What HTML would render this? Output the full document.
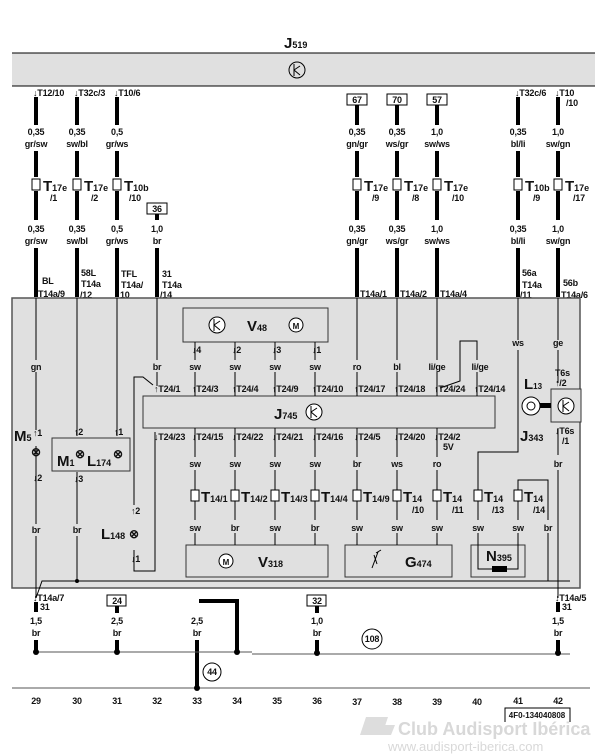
<!DOCTYPE html>
<html><head><meta charset="utf-8"><style>
html,body{margin:0;padding:0;background:#fff;}
svg{display:block;}
text{font-family:"Liberation Sans",sans-serif;font-weight:bold;fill:#111;}
.s{font-size:9px;letter-spacing:-0.2px;}
.b{font-size:15px;}
.c{text-anchor:middle;}
</style></head><body>
<svg width="608" height="756" viewBox="0 0 608 756" xmlns="http://www.w3.org/2000/svg">
<!-- J519 -->
<text x="284" y="48" class="b">J<tspan font-size="9">519</tspan></text>
<rect x="12" y="53" width="583" height="33" fill="#e0e0e0"/>
<line x1="12" y1="53" x2="595" y2="53" stroke="#000" stroke-width="1"/>
<line x1="12" y1="86" x2="595" y2="86" stroke="#000" stroke-width="1"/>
<circle cx="297" cy="70" r="8" fill="none" stroke="#000"/>
<path d="M294 64v12M294 70l6-4M294 70l6 5" stroke="#000" fill="none"/>

<!-- top thick wires -->
<g stroke="#000" stroke-width="4">
<path d="M36 97v28M36 151v26M36 191v29M36 248v49"/>
<path d="M77 97v28M77 151v26M77 191v29M77 248v49"/>
<path d="M117 97v28M117 151v26M117 191v29M117 248v49"/>
<path d="M157 214v6M157 248v49"/>
<path d="M357 105v20M357 151v26M357 191v29M357 248v49"/>
<path d="M397 105v20M397 151v26M397 191v29M397 248v49"/>
<path d="M437 105v20M437 151v26M437 191v29M437 248v49"/>
<path d="M518 97v28M518 151v26M518 191v29M518 248v49"/>
<path d="M558 97v28M558 151v26M558 191v29M558 248v49"/>
</g>
<g class="s">
<text x="33" y="96">↓T12/10</text><text x="74" y="96">↓T32c/3</text><text x="114" y="96">↓T10/6</text>
<text x="515" y="96">↓T32c/6</text><text x="555" y="96">↓T10</text><text x="566" y="106">/10</text>
<text x="36" y="135" class="c">0,35</text><text x="36" y="147" class="c">gr/sw</text>
<text x="77" y="135" class="c">0,35</text><text x="77" y="147" class="c">sw/bl</text>
<text x="117" y="135" class="c">0,5</text><text x="117" y="147" class="c">gr/ws</text>
<text x="36" y="232" class="c">0,35</text><text x="36" y="244" class="c">gr/sw</text>
<text x="77" y="232" class="c">0,35</text><text x="77" y="244" class="c">sw/bl</text>
<text x="117" y="232" class="c">0,5</text><text x="117" y="244" class="c">gr/ws</text>
<text x="157" y="232" class="c">1,0</text><text x="157" y="244" class="c">br</text>
<text x="357" y="135" class="c">0,35</text><text x="357" y="147" class="c">gn/gr</text>
<text x="397" y="135" class="c">0,35</text><text x="397" y="147" class="c">ws/gr</text>
<text x="437" y="135" class="c">1,0</text><text x="437" y="147" class="c">sw/ws</text>
<text x="357" y="232" class="c">0,35</text><text x="357" y="244" class="c">gn/gr</text>
<text x="397" y="232" class="c">0,35</text><text x="397" y="244" class="c">ws/gr</text>
<text x="437" y="232" class="c">1,0</text><text x="437" y="244" class="c">sw/ws</text>
<text x="518" y="135" class="c">0,35</text><text x="518" y="147" class="c">bl/li</text>
<text x="558" y="135" class="c">1,0</text><text x="558" y="147" class="c">sw/gn</text>
<text x="518" y="232" class="c">0,35</text><text x="518" y="244" class="c">bl/li</text>
<text x="558" y="232" class="c">1,0</text><text x="558" y="244" class="c">sw/gn</text>
<text x="42" y="284">BL</text><text x="38" y="297">T14a/9</text>
<text x="81" y="276">58L</text><text x="81" y="287">T14a</text><text x="80" y="298">/12</text>
<text x="121" y="277">TFL</text><text x="121" y="288">T14a/</text><text x="120" y="298">10</text>
<text x="162" y="277">31</text><text x="162" y="288">T14a</text><text x="160" y="298">/14</text>
<text x="360" y="297">T14a/1</text><text x="400" y="297">T14a/2</text><text x="440" y="297">T14a/4</text>
<text x="522" y="276">56a</text><text x="522" y="288">T14a</text><text x="520" y="298">/11</text>
<text x="563" y="286">56b</text><text x="561" y="298">T14a/6</text>
</g>
<!-- boxed refs -->
<g fill="#fff" stroke="#000">
<rect x="147" y="203" width="20" height="11"/>
<rect x="347" y="94" width="20" height="11"/><rect x="387" y="94" width="20" height="11"/><rect x="427" y="94" width="20" height="11"/>
</g>
<g class="s">
<text x="157" y="212" class="c">36</text><text x="357" y="103" class="c">67</text><text x="397" y="103" class="c">70</text><text x="437" y="103" class="c">57</text>
</g>
<!-- top connectors -->
<g fill="#fff" stroke="#000">
<rect x="32" y="179" width="8" height="11"/><rect x="73" y="179" width="8" height="11"/><rect x="113" y="179" width="8" height="11"/>
<rect x="353" y="179" width="8" height="11"/><rect x="393" y="179" width="8" height="11"/><rect x="433" y="179" width="8" height="11"/>
<rect x="514" y="179" width="8" height="11"/><rect x="554" y="179" width="8" height="11"/>
</g>
<g>
<text x="43" y="191" class="b">T<tspan font-size="9">17e</tspan></text><text x="50" y="201" class="s">/1</text>
<text x="84" y="191" class="b">T<tspan font-size="9">17e</tspan></text><text x="91" y="201" class="s">/2</text>
<text x="124" y="191" class="b">T<tspan font-size="9">10b</tspan></text><text x="129" y="201" class="s">/10</text>
<text x="364" y="191" class="b">T<tspan font-size="9">17e</tspan></text><text x="372" y="201" class="s">/9</text>
<text x="404" y="191" class="b">T<tspan font-size="9">17e</tspan></text><text x="412" y="201" class="s">/8</text>
<text x="444" y="191" class="b">T<tspan font-size="9">17e</tspan></text><text x="452" y="201" class="s">/10</text>
<text x="525" y="191" class="b">T<tspan font-size="9">10b</tspan></text><text x="533" y="201" class="s">/9</text>
<text x="565" y="191" class="b">T<tspan font-size="9">17e</tspan></text><text x="573" y="201" class="s">/17</text>
</g>

<!-- main box -->
<rect x="12" y="298" width="568" height="290" fill="#e0e0e0" stroke="#555" stroke-width="1.5"/>
<!-- V48 -->
<rect x="183" y="308" width="145" height="34" fill="#e0e0e0" stroke="#333"/>
<circle cx="217" cy="325" r="8" fill="#fff" stroke="#000"/><path d="M214 319v12M214 325l6-4M214 325l6 5" stroke="#000" fill="none"/>
<text x="247" y="331" class="b">V<tspan font-size="9">48</tspan></text>
<circle cx="296" cy="325" r="7" fill="#fff" stroke="#000"/><text x="296" y="329" class="c" font-size="8">M</text>
<!-- J745 -->
<rect x="143" y="396" width="352" height="32" fill="#e0e0e0" stroke="#333"/>
<text x="274" y="419" class="b">J<tspan font-size="9">745</tspan></text>
<circle cx="314" cy="412" r="8" fill="#fff" stroke="#000"/><path d="M311 406v12M311 412l6-4M311 412l6 5" stroke="#000" fill="none"/>
<!-- V318, G474, N395 -->
<rect x="186" y="545" width="142" height="32" fill="#e0e0e0" stroke="#333"/>
<circle cx="226" cy="561" r="7" fill="#fff" stroke="#000"/><text x="226" y="565" class="c" font-size="8">M</text>
<text x="258" y="567" class="b">V<tspan font-size="9">318</tspan></text>
<rect x="345" y="545" width="107" height="32" fill="#e0e0e0" stroke="#333"/>
<path d="M372 568l6-16M376 553l5-3M374 555l3 9" stroke="#000" fill="none"/>
<text x="405" y="567" class="b">G<tspan font-size="9">474</tspan></text>
<rect x="471" y="545" width="54" height="32" fill="#e0e0e0" stroke="#333"/>
<text x="486" y="561" class="b">N<tspan font-size="9">395</tspan></text>
<rect x="492" y="566" width="15" height="6" fill="#000"/>
<!-- M1/L174 box -->
<rect x="52" y="438" width="78" height="33" fill="#e0e0e0" stroke="#333"/>
<text x="57" y="466" class="b">M<tspan font-size="9">1</tspan></text>
<text x="87" y="466" class="b">L<tspan font-size="9">174</tspan></text>
<!-- J343 -->
<rect x="551" y="389" width="30" height="33" fill="#e0e0e0" stroke="#333"/>
<circle cx="566" cy="406" r="8" fill="#fff" stroke="#000"/><path d="M563 400v12M563 406l6-4M563 406l6 5" stroke="#000" fill="none"/>
<rect x="540" y="403" width="11" height="5" fill="#000"/>
<circle cx="531" cy="406" r="9" fill="#fff" stroke="#000"/><circle cx="531" cy="406" r="4" fill="none" stroke="#000"/>
<text x="524" y="389" class="b">L<tspan font-size="8">13</tspan></text>
<text x="520" y="441" class="b">J<tspan font-size="9">343</tspan></text>

<!-- thin wires -->
<g stroke="#000" fill="none" stroke-width="1">
<path d="M36 298v62M36 372v58M36 446v78M36 536v62"/>
<path d="M77 298v138M117 298v138M77 472v52M77 536v45"/>
<path d="M157 298v62M157 372v14"/>
<path d="M134 505v-128h9l10 8"/>
<path d="M134 550v21h21v-139"/>
<path d="M36 598l6-17h528"/>
<path d="M195 342v18M235 342v18M275 342v18M315 342v18"/>
<path d="M195 372v24M235 372v24M275 372v24M315 372v24"/>
<path d="M357 298v62M357 372v24M397 298v62M397 372v24M437 298v62M437 372v24"/>
<path d="M477 372v24M477 360v-19h-17v40l-20 7"/>
<path d="M195 428v29M235 428v29M275 428v29M315 428v29M357 428v29M397 428v29M437 428v29"/>
<path d="M195 470v50M235 470v50M275 470v50M315 470v50M357 470v50M397 470v50M437 470v50"/>
<path d="M195 533v12M235 533v12M275 533v12M315 533v12M357 533v12M397 533v12M437 533v12"/>
<path d="M518 298v42M518 350v102h-40v68M478 533v36h14"/>
<path d="M518 520v-40h30v40M518 533v36h-11M548 533v48"/>
<path d="M558 298v42M558 350v33M558 428v27M558 470v128"/>
</g>
<circle cx="77" cy="581" r="2" fill="#000"/>
<g class="s">
<text x="36" y="370" class="c">gn</text>
<text x="157" y="370" class="c">br</text>
<text x="195" y="370" class="c">sw</text><text x="235" y="370" class="c">sw</text><text x="275" y="370" class="c">sw</text><text x="315" y="370" class="c">sw</text>
<text x="357" y="370" class="c">ro</text><text x="397" y="370" class="c">bl</text><text x="437" y="370" class="c">li/ge</text><text x="480" y="370" class="c">li/ge</text>
<text x="518" y="346" class="c">ws</text><text x="558" y="346" class="c">ge</text>
<text x="192" y="353">↓4</text><text x="232" y="353">↓2</text><text x="272" y="353">↓3</text><text x="312" y="353">↓1</text>
<text x="154" y="392">↑T24/1</text><text x="192" y="392">↑T24/3</text><text x="232" y="392">↑T24/4</text><text x="272" y="392">↑T24/9</text><text x="312" y="392">↑T24/10</text>
<text x="354" y="392">↑T24/17</text><text x="394" y="392">↑T24/18</text><text x="434" y="392">↑T24/24</text><text x="474" y="392">↑T24/14</text>
<text x="154" y="440">↓T24/23</text><text x="192" y="440">↓T24/15</text><text x="232" y="440">↓T24/22</text><text x="272" y="440">↓T24/21</text><text x="312" y="440">↓T24/16</text>
<text x="354" y="440">↓T24/5</text><text x="394" y="440">↓T24/20</text><text x="434" y="440">↓T24/2</text><text x="443" y="450">5V</text>
<text x="195" y="467" class="c">sw</text><text x="235" y="467" class="c">sw</text><text x="275" y="467" class="c">sw</text><text x="315" y="467" class="c">sw</text>
<text x="357" y="467" class="c">br</text><text x="397" y="467" class="c">ws</text><text x="437" y="467" class="c">ro</text><text x="558" y="467" class="c">br</text>
<text x="195" y="531" class="c">sw</text><text x="235" y="531" class="c">br</text><text x="275" y="531" class="c">sw</text><text x="315" y="531" class="c">br</text>
<text x="357" y="531" class="c">sw</text><text x="397" y="531" class="c">sw</text><text x="437" y="531" class="c">sw</text><text x="478" y="531" class="c">sw</text><text x="518" y="531" class="c">sw</text><text x="548" y="531" class="c">br</text>
<text x="36" y="533" class="c">br</text><text x="77" y="533" class="c">br</text>
<text x="33" y="436">↑1</text><text x="33" y="481">↓2</text>
<text x="74" y="435">↑2</text><text x="114" y="435">↑1</text><text x="74" y="482">↓3</text>
<text x="131" y="514">↑2</text><text x="131" y="562">↓1</text>
<text x="555" y="376">T6s</text><text x="555" y="386">↑/2</text>
<text x="555" y="434">↓T6s</text><text x="562" y="444">/1</text>
</g>
<text x="14" y="441" class="b">M<tspan font-size="9">5</tspan></text>
<text x="36" y="456" class="c" font-size="12">⊗</text>
<text x="80" y="458" class="c" font-size="12">⊗</text>
<text x="118" y="458" class="c" font-size="12">⊗</text>
<text x="134" y="538" class="c" font-size="12">⊗</text>
<text x="101" y="539" class="b">L<tspan font-size="9">148</tspan></text>
<!-- lower T14 connectors -->
<g fill="#fff" stroke="#000">
<rect x="191" y="490" width="8" height="11"/><rect x="231" y="490" width="8" height="11"/><rect x="271" y="490" width="8" height="11"/><rect x="311" y="490" width="8" height="11"/>
<rect x="353" y="490" width="8" height="11"/><rect x="393" y="490" width="8" height="11"/><rect x="433" y="490" width="8" height="11"/><rect x="474" y="490" width="8" height="11"/><rect x="514" y="490" width="8" height="11"/>
</g>
<g>
<text x="201" y="502" class="b">T<tspan font-size="9">14/1</tspan></text><text x="241" y="502" class="b">T<tspan font-size="9">14/2</tspan></text>
<text x="281" y="502" class="b">T<tspan font-size="9">14/3</tspan></text><text x="321" y="502" class="b">T<tspan font-size="9">14/4</tspan></text>
<text x="363" y="502" class="b">T<tspan font-size="9">14/9</tspan></text>
<text x="403" y="502" class="b">T<tspan font-size="9">14</tspan></text><text x="412" y="513" class="s">/10</text>
<text x="443" y="502" class="b">T<tspan font-size="9">14</tspan></text><text x="452" y="513" class="s">/11</text>
<text x="484" y="502" class="b">T<tspan font-size="9">14</tspan></text><text x="492" y="513" class="s">/13</text>
<text x="524" y="502" class="b">T<tspan font-size="9">14</tspan></text><text x="533" y="513" class="s">/14</text>
</g>

<!-- bottom -->
<g stroke="#000" stroke-width="4">
<path d="M36 602v10M36 640v11M117 606v7M117 640v11M317 606v7M317 640v11M558 602v10M558 640v11"/>
<path d="M197 640v48M199 601h38v51" fill="none"/>
</g>
<g fill="#fff" stroke="#000">
<rect x="107" y="595" width="19" height="11"/><rect x="307" y="595" width="19" height="11"/>
</g>
<g stroke="#555" stroke-width="1">
<line x1="36" y1="652" x2="252" y2="652"/><line x1="252" y1="654" x2="570" y2="654"/>
<line x1="12" y1="688" x2="590" y2="688"/>
</g>
<g fill="#000"><circle cx="36" cy="652" r="3"/><circle cx="117" cy="652" r="3"/><circle cx="237" cy="652" r="3"/><circle cx="317" cy="653" r="3"/><circle cx="558" cy="653" r="3"/><circle cx="197" cy="688" r="3"/></g>
<circle cx="212" cy="672" r="9" fill="#fff" stroke="#000"/><text x="212" y="675" class="s c">44</text>
<circle cx="372" cy="639" r="10" fill="#fff" stroke="#000"/><text x="372" y="642" class="s c">108</text>
<g class="s">
<text x="33" y="601">↓T14a/7</text><text x="40" y="610">31</text>
<text x="555" y="601">↓T14a/5</text><text x="562" y="610">31</text>
<text x="117" y="604" class="c">24</text><text x="317" y="604" class="c">32</text>
<text x="36" y="624" class="c">1,5</text><text x="36" y="636" class="c">br</text>
<text x="117" y="624" class="c">2,5</text><text x="117" y="636" class="c">br</text>
<text x="197" y="624" class="c">2,5</text><text x="197" y="636" class="c">br</text>
<text x="317" y="624" class="c">1,0</text><text x="317" y="636" class="c">br</text>
<text x="558" y="624" class="c">1,5</text><text x="558" y="636" class="c">br</text>
<text x="36" y="704" class="c">29</text><text x="77" y="704" class="c">30</text><text x="117" y="704" class="c">31</text><text x="157" y="704" class="c">32</text>
<text x="197" y="704" class="c">33</text><text x="237" y="704" class="c">34</text><text x="277" y="704" class="c">35</text><text x="317" y="704" class="c">36</text>
<text x="357" y="705" class="c">37</text><text x="397" y="705" class="c">38</text><text x="437" y="705" class="c">39</text><text x="477" y="705" class="c">40</text>
<text x="518" y="704" class="c">41</text><text x="558" y="704" class="c">42</text>
</g>
<text x="537" y="718" class="c" font-size="8">4F0-134040808</text>
<path d="M505 722v-14h65v14" fill="none" stroke="#000"/>
<path d="M360 735l6-18h22l-6 18z M381 735l4-10h10l-4 10z" fill="#ddd"/>
<text x="398" y="735" font-size="18" style="fill:#d8d8d8">Club Audisport Ibérica</text>
<text x="388" y="751" font-size="13" style="fill:#d8d8d8;font-weight:normal">www.audisport-iberica.com</text>
</svg>
</body></html>
